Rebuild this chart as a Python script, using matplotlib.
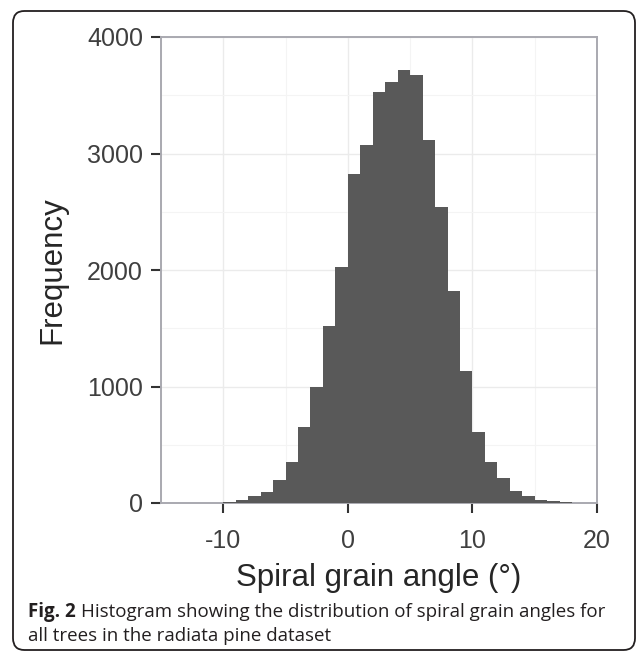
import matplotlib
matplotlib.use("Agg")
import matplotlib.pyplot as plt
from matplotlib.patches import FancyBboxPatch
from matplotlib.ticker import MultipleLocator

# ---------------------------------------------------------------------------
# Data (1-degree bins, counts)
# ---------------------------------------------------------------------------
bin_left = [-11, -10, -9, -8, -7, -6, -5, -4, -3, -2, -1, 0, 1, 2, 3,
            4, 5, 6, 7, 8, 9, 10, 11, 12, 13, 14, 15, 16, 17]
counts = [4, 12, 27, 58, 96, 195, 355, 653, 1000, 1520, 2028, 2828, 3071,
          3527, 3616, 3716, 3670, 3119, 2537, 1823, 1129, 610, 355, 212,
          101, 58, 30, 15, 5]
x_ticks = [-10, 0, 10, 20]
y_ticks = [0, 1000, 2000, 3000, 4000]

BAR = "#595959"
TICK_TXT = "#3f3f3f"
GRID = "#ebebeb"
PANEL_EDGE = "#a9a9b0"

plt.rcParams["font.family"] = ["Liberation Sans", "DejaVu Sans"]
plt.rcParams["axes.unicode_minus"] = False

W, H = 636, 653
fig = plt.figure(figsize=(W / 100, H / 100), dpi=100)

# axes placed in pixel coords of the reference
left, right, top, bottom = 161, 597, 37, 503
ax = fig.add_axes([left / W, 1 - bottom / H, (right - left) / W, (bottom - top) / H])

ax.bar(bin_left, counts, width=1.0, align="edge", color=BAR, linewidth=0, zorder=3)

ax.set_xlim(-15, 20)
ax.set_ylim(0, 4000)
ax.set_xticks(x_ticks)
ax.set_yticks(y_ticks)
ax.xaxis.set_minor_locator(MultipleLocator(5))
ax.yaxis.set_minor_locator(MultipleLocator(500))
ax.grid(True, which="major", color=GRID, linewidth=1.0, zorder=0)
ax.grid(True, which="minor", color="#f4f4f4", linewidth=0.8, zorder=0)
ax.set_axisbelow(True)

for s in ax.spines.values():
    s.set_color(PANEL_EDGE)
    s.set_linewidth(1.4)

ax.tick_params(which="major", length=7, width=1.5, color="#333333",
               labelsize=18, labelcolor=TICK_TXT)
ax.tick_params(axis="y", pad=6)
ax.tick_params(axis="x", pad=12)
ax.tick_params(which="minor", length=0)

ax.set_xlabel("Spiral grain angle (°)", fontsize=22.5, color="#262626", labelpad=7)
ax.set_ylabel("Frequency", fontsize=22.5, color="#262626", labelpad=14)

# ---------------------------------------------------------------------------
# Caption + rounded frame
# ---------------------------------------------------------------------------
frame = FancyBboxPatch((13 / W, 3 / H), (W - 14) / W, (H - 14) / H,
                       boxstyle="round,pad=0,rounding_size=0.018",
                       transform=fig.transFigure, fill=False,
                       edgecolor="#231f20", linewidth=1.3)
fig.add_artist(frame)

cap_font = ["Open Sans", "DejaVu Sans"]
cap_size = 13.5
renderer = fig.canvas.get_renderer()
t1 = fig.text(28 / W, 1 - 612 / H, "Fig. 2", fontsize=cap_size, fontweight="bold",
              family=cap_font, color="#231f20", va="center")
bb = t1.get_window_extent(renderer)
fig.text((bb.x1 + 5) / W, 1 - 612 / H,
         "Histogram showing the distribution of spiral grain angles for",
         fontsize=cap_size, family=cap_font, color="#231f20", va="center")
fig.text(28 / W, 1 - 636 / H, "all trees in the radiata pine dataset",
         fontsize=cap_size, family=cap_font, color="#231f20", va="center")

fig.savefig("out.png", dpi=100)
